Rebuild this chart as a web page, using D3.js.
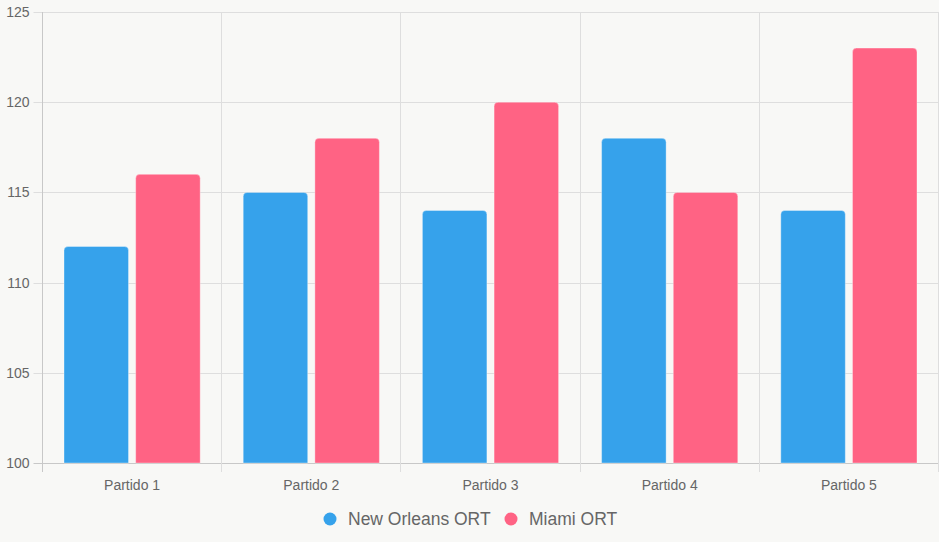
<!DOCTYPE html>
<html>
<head>
<meta charset="utf-8">
<script src="https://cdn.jsdelivr.net/npm/d3@7"></script>
<style>
  body { margin: 0; background: #f8f8f6; }
  svg { display: block; font-family: "Liberation Sans", Arial, sans-serif; }
</style>
</head>
<body>
<svg id="canvas" width="939" height="542"></svg>
<script>
let categories = ["Partido 1", "Partido 2", "Partido 3", "Partido 4", "Partido 5"]
let seriesNames = ["New Orleans ORT", "Miami ORT"]
let newOrleans = [112, 115, 114, 118, 114]
let miami = [116, 118, 120, 115, 123]
let yTicks = [100, 105, 110, 115, 120, 125]
let colors = ["#36a2eb", "#ff6384"]

let width = 939, height = 542
let margin = {top: 12, right: 0.5, bottom: 79, left: 42.5}

let svg = d3.select('#canvas')
svg.append('rect').attr('width', width).attr('height', height).attr('fill', '#f8f8f6')

let x = d3.scaleBand()
  .domain(categories)
  .range([margin.left, width - margin.right])

let y = d3.scaleLinear()
  .domain([100, 125])
  .range([height - margin.bottom, margin.top])

// horizontal grid + y labels
let grid = svg.append('g')
grid.selectAll('line.h')
  .data(yTicks)
  .enter()
  .append('line')
  .attr('x1', margin.left - 9)
  .attr('x2', width - margin.right)
  .attr('y1', d => Math.round(y(d)) + 0.5)
  .attr('y2', d => Math.round(y(d)) + 0.5)
  .attr('stroke', d => d == 100 ? '#c8c8c8' : '#dedede')

grid.selectAll('text.yl')
  .data(yTicks)
  .enter()
  .append('text')
  .attr('x', margin.left - 13)
  .attr('y', d => Math.round(y(d)) + 0.5)
  .attr('dy', '0.35em')
  .attr('text-anchor', 'end')
  .attr('font-size', 14)
  .attr('fill', '#666')
  .text(d => d)

// vertical grid lines at category edges
let edges = categories.map(c => x(c)).concat([width - margin.right])
grid.selectAll('line.v')
  .data(edges)
  .enter()
  .append('line')
  .attr('x1', d => Math.round(d - 0.5) + 0.5)
  .attr('x2', d => Math.round(d - 0.5) + 0.5)
  .attr('y1', margin.top)
  .attr('y2', height - margin.bottom + 9)
  .attr('stroke', (d, i) => i == 0 ? '#c8c8c8' : '#dedede')

// x labels
grid.selectAll('text.xl')
  .data(categories)
  .enter()
  .append('text')
  .attr('x', d => x(d) + x.bandwidth() / 2)
  .attr('y', height - margin.bottom + 22)
  .attr('dy', '0.35em')
  .attr('text-anchor', 'middle')
  .attr('font-size', 14)
  .attr('fill', '#666')
  .text(d => d)

// bars
let inner = d3.scaleBand()
  .domain([0, 1])
  .range([x.bandwidth() * 0.1, x.bandwidth() * 0.9])
  .paddingInner(0.1)
  .paddingOuter(0.05)

let barW = inner.bandwidth()
let rr = 4
let barPath = (x0, y0, w, y1) => {
  return `M${x0},${y1}V${y0 + rr}Q${x0},${y0} ${x0 + rr},${y0}H${x0 + w - rr}Q${x0 + w},${y0} ${x0 + w},${y0 + rr}V${y1}Z`
}

let series = [newOrleans, miami]
series.forEach((vals, si) => {
  svg.append('g')
    .selectAll('path')
    .data(vals)
    .enter()
    .append('path')
    .attr('d', (d, i) => barPath(x(categories[i]) + inner(si), y(d), barW, y(100)))
    .attr('fill', colors[si])
    .attr('stroke', 'rgba(255,255,255,0.35)')
    .attr('stroke-width', 1)
})

// legend
let legend = svg.append('g')
let legX = [330, 511]
seriesNames.forEach((name, i) => {
  legend.append('circle')
    .attr('cx', legX[i])
    .attr('cy', 519)
    .attr('r', 6.5)
    .attr('fill', colors[i])
  legend.append('text')
    .attr('x', legX[i] + 18)
    .attr('y', 519)
    .attr('dy', '0.35em')
    .attr('font-size', 17.5)
    .attr('fill', '#666')
    .text(name)
})
</script>
</body>
</html>
